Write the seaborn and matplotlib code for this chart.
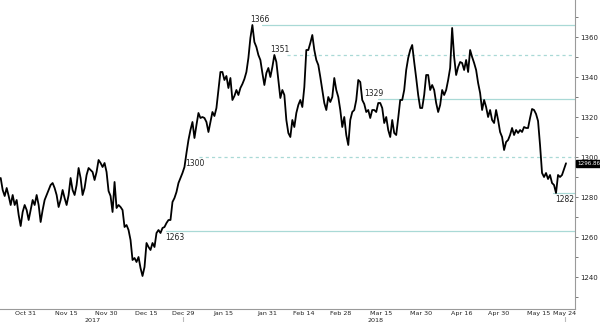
import numpy as np
import pandas as pd
import matplotlib
matplotlib.use("Agg")
import matplotlib.pyplot as plt
import matplotlib.transforms as mtransforms
import seaborn as sns

# ---------------- data ----------------
price = [
    1289.5, 1283.5, 1280.5, 1284.5, 1280.5, 1276, 1281, 1276, 1278.5, 1271,
    1265.5, 1272.5, 1276, 1273.5, 1268.5, 1273.5, 1278.5, 1276, 1281, 1276,
    1267.5, 1273.5, 1278.5, 1281, 1283.5, 1286, 1287, 1284.5, 1281, 1275,
    1278.5, 1283.5, 1279.5, 1276, 1281, 1289.5, 1283.5, 1281, 1286, 1294.5,
    1289.5, 1281, 1284.5, 1291, 1294.5, 1293.5, 1292.5, 1288.5, 1292.5, 1298.5,
    1297, 1295, 1297, 1292.5, 1283, 1280.5, 1272.5, 1287.5, 1274.5, 1276,
    1275, 1273.5, 1265, 1266, 1263.5, 1258.5, 1248.5, 1249.5, 1247.5, 1250,
    1244.5, 1240.5, 1245, 1257, 1255, 1253.5, 1257, 1255, 1262, 1263.5,
    1262, 1264.5, 1265, 1267, 1268.5, 1268.5, 1277.5, 1279.5, 1282.5, 1287,
    1289.5, 1292, 1295, 1302, 1308.5, 1313.5, 1317.5, 1309.5, 1316, 1322,
    1319.5, 1320, 1319.5, 1317.5, 1312.5, 1317.5, 1322.5, 1320.5, 1324.5, 1333.5,
    1342.5, 1342.5, 1338.5, 1340.5, 1334.5, 1339.5, 1328.5, 1330.5, 1333.5, 1331,
    1334.5, 1336.5, 1339, 1342.5, 1349.5, 1359.5, 1366, 1357.5, 1355, 1351,
    1348.5, 1342, 1336, 1342, 1344.5, 1340, 1345, 1351, 1347.5, 1338.5,
    1329.5, 1333.5, 1331, 1318.5, 1312, 1310, 1318.5, 1315, 1322, 1326,
    1328.5, 1325, 1335, 1353.5, 1353.5, 1357, 1361, 1353.5, 1348.5, 1346,
    1340, 1333.5, 1327, 1323.5, 1330, 1327.5, 1330, 1339.5, 1333.5, 1330,
    1323.5, 1315, 1320, 1311, 1306, 1318.5, 1322.5, 1323.5, 1328.5, 1338.5,
    1337.5, 1328.5, 1326.5, 1322.5, 1323.5, 1319.5, 1323.5, 1323.5, 1322.5, 1327,
    1327, 1324.5, 1317, 1320, 1313.5, 1310, 1318.5, 1312, 1311, 1319.5,
    1328.5, 1328.5, 1333.5, 1343.5, 1349.5, 1353.5, 1356, 1347.5, 1339.5, 1331,
    1324.5, 1324.5, 1331, 1341, 1341, 1333.5, 1336, 1333.5, 1327, 1322.5,
    1326, 1333.5, 1331, 1333.5, 1338.5, 1344.5, 1364.5, 1350, 1341, 1345,
    1347.5, 1347, 1343.5, 1348.5, 1342.5, 1353.5, 1350, 1347, 1343.5, 1337,
    1332, 1323.5, 1328.5, 1325, 1320, 1323.5, 1318.5, 1317, 1323.5, 1318.5,
    1312.5, 1310, 1303.5, 1307.5, 1308.5, 1311, 1314.5, 1311, 1313.5, 1312,
    1313.5, 1312.5, 1315, 1314.5, 1314.5, 1319.5, 1324, 1323.5, 1321.5, 1318,
    1306, 1292, 1290, 1292, 1289, 1291, 1287, 1286, 1282, 1291,
    1290, 1291, 1294, 1296.86,
]
last_value = 1296.86

tick_dates = ["2017-10-31", "2017-11-15", "2017-11-30", "2017-12-15", "2017-12-29",
              "2018-01-15", "2018-01-31", "2018-02-14", "2018-02-28", "2018-03-15",
              "2018-03-30", "2018-04-16", "2018-04-30", "2018-05-15", "2018-05-24"]
tick_labels = ["Oct 31", "Nov 15", "Nov 30", "Dec 15", "Dec 29", "Jan 15", "Jan 31",
               "Feb 14", "Feb 28", "Mar 15", "Mar 30", "Apr 16", "Apr 30", "May 15", "May 24"]
year_labels = ["2017", "2018"]

levels = [1366, 1351, 1329, 1300, 1263, 1282]
level_labels = ["1366", "1351", "1329", "1300", "1263", "1282"]
level_dashed = [False, True, False, True, False, False]

y_ticks = [1240, 1260, 1280, 1300, 1320, 1340, 1360]

# ---------------- layout helpers ----------------
W, H = 600, 322
AX_RIGHT_PX, AX_BOTTOM_PX = 575, 309
ORIGIN = "2017-10-31"
PX0, PX_PER_DAY = 25.0, 3.67


def px_to_idx(px):
    return (px - PX0) / PX_PER_DAY


tick_pos = np.array([np.busday_count(ORIGIN, d) for d in tick_dates], dtype=float)
x = np.linspace(px_to_idx(0), px_to_idx(566), len(price))
df = pd.DataFrame({"x": x, "price": price})

sns.set_style("white")
plt.rcParams["font.family"] = ["DejaVu Sans"]

fig = plt.figure(figsize=(W / 100, H / 100), dpi=100)
ax = fig.add_axes([0, (H - AX_BOTTOM_PX) / H, AX_RIGHT_PX / W, AX_BOTTOM_PX / H])

# reference lines
line_color = "#a9d9d6"
line_start_px = [262, 287, 378, 199, 166, 553]
label_px = [250, 270, 364, 185, 165, 555]
label_above = [True, True, True, False, False, False]
for lv, lab, dsh, lpx, tpx, above in zip(levels, level_labels, level_dashed,
                                         line_start_px, label_px, label_above):
    ax.plot([px_to_idx(lpx), px_to_idx(AX_RIGHT_PX)], [lv, lv], color=line_color,
            lw=0.9, ls=(0, (2.5, 2.5)) if dsh else "-", zorder=1)
    ax.text(px_to_idx(tpx), lv + (0.6 if above else -0.8), lab, fontsize=5.5,
            color="#222222", ha="left", va="bottom" if above else "top", zorder=3)

sns.lineplot(data=df, x="x", y="price", ax=ax, color="black", lw=1.3, zorder=2)

ax.set_xlim(px_to_idx(0), px_to_idx(AX_RIGHT_PX))
ax.set_ylim(1378.5 - AX_BOTTOM_PX / 2, 1378.5)
ax.set_xlabel("")
ax.set_ylabel("")

for s in ["top", "left"]:
    ax.spines[s].set_visible(False)
for s in ["right", "bottom"]:
    ax.spines[s].set_color("#9a9a9a")
    ax.spines[s].set_linewidth(0.8)

ax.yaxis.tick_right()
ax.set_yticks(y_ticks)
ax.set_yticklabels([str(v) for v in y_ticks])
ax.set_yticks(np.arange(1230, 1380, 10), minor=True)
ax.tick_params(axis="y", which="both", direction="out", length=2.5, width=0.6,
               color="#666666", labelsize=5, pad=1.5, labelcolor="#222222",
               right=True, left=False)

ax.set_xticks(tick_pos)
ax.set_xticklabels(tick_labels)
mids = np.concatenate([[tick_pos[0] - 7], (tick_pos[:-1] + tick_pos[1:]) / 2])
ax.set_xticks(mids, minor=True)
ax.tick_params(axis="x", which="major", length=0, labelsize=4.6, pad=1.2,
               labelcolor="#222222")
ax.tick_params(axis="x", which="minor", direction="out", length=2, width=0.6,
               color="#666666")

# year labels and separators below the axis
blend = mtransforms.blended_transform_factory(ax.transData, ax.transAxes)
for xp, lab in zip([92, 375], year_labels):
    ax.text(px_to_idx(xp), -12 / AX_BOTTOM_PX, lab, transform=blend,
            fontsize=4.6, ha="center", va="center", color="#222222")
for d in [tick_pos[4], tick_pos[-1]]:
    ax.plot([d, d], [-8 / AX_BOTTOM_PX, -14 / AX_BOTTOM_PX], transform=blend,
            color="#bbbbbb", lw=0.8, clip_on=False)

# last value box
blend_y = mtransforms.blended_transform_factory(ax.transAxes, ax.transData)
ax.text(1.004, last_value, f"{last_value:.2f}", transform=blend_y, fontsize=4.5,
        fontstretch="condensed", color="white", ha="left", va="center",
        bbox=dict(boxstyle="square,pad=0.15", fc="black", ec="black"))

fig.savefig("out.png", dpi=100)
